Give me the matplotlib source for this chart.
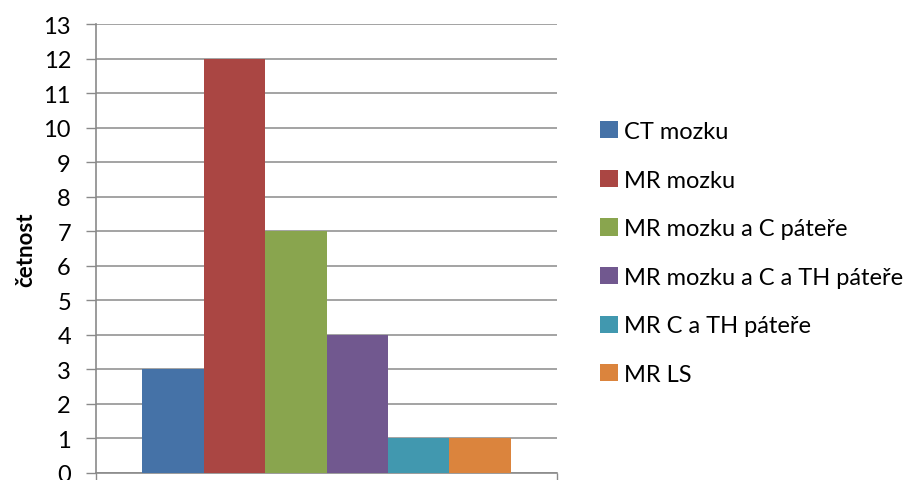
import matplotlib.pyplot as plt

# vysetreni a jejich cetnosti
labels = ['CT mozku', 'MR mozku', 'MR mozku a C páteře',
          'MR mozku a C a TH páteře', 'MR C a TH páteře', 'MR LS']
counts = [3, 12, 7, 4, 1, 1]
colors = ['#4572A7', '#AA4643', '#89A54E', '#71588F', '#4198AF', '#DB843D']
yticks = list(range(0, 14))

plt.rcParams['font.family'] = ['Lato', 'DejaVu Sans']

fig = plt.figure(figsize=(9.07, 4.81), dpi=100)
ax = fig.add_axes([96/907, 7/481, 461/907, 449/481])

grid_col = '#8a8a8a'
for i in range(len(counts)):
    ax.bar(i, counts[i], width=1.0, color=colors[i], label=labels[i], zorder=3)

ax.set_xlim(-1.25, 6.25)
ax.set_ylim(0, 13)
ax.set_yticks(yticks)
ax.yaxis.grid(True, color=grid_col, linewidth=1.1, zorder=0)

# kategoriova osa: jen krajni znacky dolu
ax.set_xticks([-1.25, 6.25])
ax.set_xticklabels(['', ''])
ax.tick_params(axis='x', direction='out', length=8, width=1, color=grid_col)
ax.tick_params(axis='y', direction='out', length=7, width=1, color=grid_col,
               labelsize=17, pad=11)

for s in ['top', 'right']:
    ax.spines[s].set_visible(False)
for s in ['left', 'bottom']:
    ax.spines[s].set_color(grid_col)
    ax.spines[s].set_linewidth(1.2)

ax.set_ylabel('četnost', fontsize=16, fontweight='bold')
ax.yaxis.set_label_coords(-0.13, 0.5)

ax.legend(loc='center left', bbox_to_anchor=(1.073, 0.49), frameon=False,
          fontsize=17, handlelength=0.75, handleheight=0.75, handletextpad=0.25,
          labelspacing=1.17, borderaxespad=0)

fig.savefig('out.png', dpi=100)
